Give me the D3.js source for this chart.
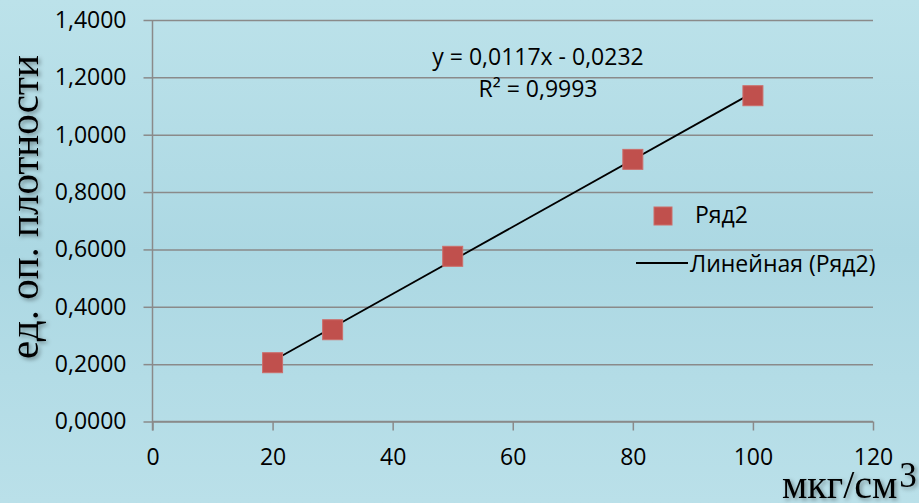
<!DOCTYPE html>
<html>
<head>
<meta charset="utf-8">
<script src="https://cdn.jsdelivr.net/npm/d3@7/dist/d3.min.js"></script>
<style>
  html, body { margin: 0; padding: 0; background: #b3dce6; }
  svg { display: block; }
</style>
</head>
<body>
<svg id="chart" width="919" height="503"></svg>
<script>
// ---- data ----
const xValues = [20, 30, 50, 80, 100];
const yValues = [0.205, 0.32, 0.576, 0.914, 1.136];
const xTicks = [0, 20, 40, 60, 80, 100, 120];
const yTicks = [0, 0.2, 0.4, 0.6, 0.8, 1.0, 1.2, 1.4];
const trendSlope = 0.0117;
const trendIntercept = -0.0232;
const equationLines = ["y = 0,0117x - 0,0232", "R² = 0,9993"];
const legendLabels = ["Ряд2", "Линейная (Ряд2)"];
const yTitle = "ед. оп. плотности";
const xTitleMain = "мкг/см";
const xTitleSup = "3";

(function () {
const W = 919, H = 503;
const svg = d3.select("#chart");
const font = "'Open Sans', 'Noto Sans', sans-serif";
const fs = 23;
const serif = "'Liberation Serif', 'DejaVu Serif', serif";

// background gradient
const defs = svg.append("defs");
const grad = defs.append("linearGradient").attr("id", "bg").attr("x1", 0).attr("y1", 0).attr("x2", 0).attr("y2", 1);
grad.append("stop").attr("offset", "0%").attr("stop-color", "#bce2ea");
grad.append("stop").attr("offset", "50%").attr("stop-color", "#acd8e3");
grad.append("stop").attr("offset", "100%").attr("stop-color", "#bae0e9");
svg.append("rect").attr("width", W).attr("height", H).attr("fill", "url(#bg)");

const shadow = defs.append("filter").attr("id", "shadow").attr("x", "-20%").attr("y", "-20%").attr("width", "140%").attr("height", "140%");
shadow.append("feDropShadow").attr("dx", 2).attr("dy", 2).attr("stdDeviation", 2)
  .attr("flood-color", "#000").attr("flood-opacity", 0.4);

const pLeft = 152.5, pRight = 873, pTop = 20, pBottom = 421.5;
const x = d3.scaleLinear().domain([0, 120]).range([pLeft, pRight]);
const y = d3.scaleLinear().domain([0, 1.4]).range([pBottom, pTop]);

const loc = d3.formatLocale({decimal: ",", thousands: " ", grouping: [3], currency: ["", ""]});
const fy = loc.format(".4f");
const gridColor = "#8a8a8a";

// gridlines
const grid = svg.append("g").attr("transform", `translate(${pLeft},0)`)
  .call(d3.axisLeft(y).tickValues(yTicks).tickSize(-(pRight - pLeft)).tickFormat(""));
grid.select(".domain").remove();
grid.selectAll("line").attr("stroke", gridColor).attr("stroke-width", 1.5);

// y axis
const yAxis = svg.append("g").attr("transform", `translate(${pLeft},0)`)
  .call(d3.axisLeft(y).tickValues(yTicks).tickSize(9).tickPadding(17).tickFormat(fy));
yAxis.select(".domain").attr("stroke", gridColor).attr("stroke-width", 1.5)
  .attr("d", `M0,${pTop}V${pBottom + 9}`);
yAxis.selectAll("line").attr("stroke", gridColor).attr("stroke-width", 1.5);
yAxis.selectAll("text").attr("font-family", font).attr("font-size", fs).attr("fill", "#000");

// x axis
const xAxis = svg.append("g").attr("transform", `translate(0,${pBottom})`)
  .call(d3.axisBottom(x).tickValues(xTicks).tickSize(9).tickPadding(18).tickFormat(d3.format("d")));
xAxis.select(".domain").attr("stroke", gridColor).attr("stroke-width", 1.5)
  .attr("d", `M${pLeft},0H${pRight}`);
xAxis.selectAll("line").attr("stroke", gridColor).attr("stroke-width", 1.5);
xAxis.selectAll("text").attr("font-family", font).attr("font-size", fs).attr("fill", "#000");

// trend line
const pts = xValues.map((v, i) => ({x: v, y: yValues[i]}));
const xMin = d3.min(xValues), xMax = d3.max(xValues);
svg.append("path")
  .datum([xMin, xMax].map(v => [v, trendSlope * v + trendIntercept]))
  .attr("d", d3.line().x(d => x(d[0])).y(d => y(d[1])))
  .attr("stroke", "#000").attr("stroke-width", 1.8).attr("fill", "none");

// markers
const ms = 20;
svg.append("g").selectAll("rect").data(pts).join("rect")
  .attr("x", d => x(d.x) - ms / 2).attr("y", d => y(d.y) - ms / 2)
  .attr("width", ms).attr("height", ms)
  .attr("fill", "#c0504d").attr("stroke", "#cc6e6b").attr("stroke-width", 1);

// equation
svg.append("g").selectAll("text").data(equationLines).join("text")
  .attr("x", 538).attr("y", (d, i) => 65 + i * 32)
  .attr("text-anchor", "middle").attr("font-family", font).attr("font-size", fs)
  .attr("fill", "#000").text(d => d);

// legend
svg.append("rect").attr("x", 654).attr("y", 207).attr("width", 18).attr("height", 18)
  .attr("fill", "#c0504d").attr("stroke", "#cc6e6b").attr("stroke-width", 1);
svg.append("text").attr("x", 695).attr("y", 223).attr("font-family", font).attr("font-size", fs)
  .attr("fill", "#000").text(legendLabels[0]);
svg.append("line").attr("x1", 636).attr("x2", 688).attr("y1", 263).attr("y2", 263)
  .attr("stroke", "#000").attr("stroke-width", 1.8);
svg.append("text").attr("x", 690).attr("y", 272).attr("font-family", font).attr("font-size", fs)
  .attr("fill", "#000").text(legendLabels[1]);

// axis titles
const yt = svg.append("g").attr("filter", "url(#shadow)");
yt.append("text").attr("transform", "translate(38,207) rotate(-90)")
  .attr("text-anchor", "middle").attr("font-family", serif).attr("font-size", 41)
  .attr("fill", "#000").text(yTitle);

const xt = svg.append("g").attr("filter", "url(#shadow)");
const xtText = xt.append("text").attr("x", 782).attr("y", 498)
  .attr("font-family", serif).attr("font-size", 40).attr("fill", "#000");
xtText.append("tspan").text(xTitleMain);
xtText.append("tspan").attr("dx", 2).attr("dy", -11).attr("font-size", 35).text(xTitleSup);
})();
</script>
</body>
</html>
